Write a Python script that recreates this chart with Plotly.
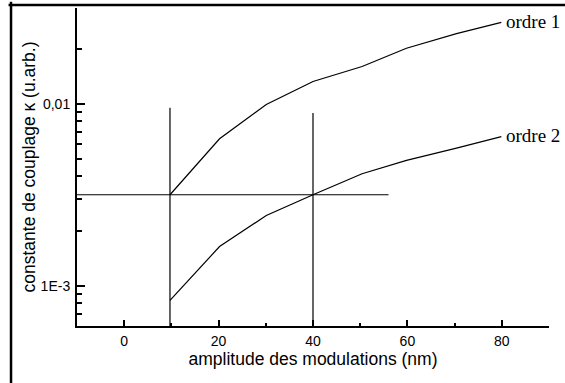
import numpy as np
import plotly.graph_objects as go

# Modulation amplitude (nm) and coupling constants for the two diffraction orders
amplitude = [9.7, 20.2, 30.1, 40.0, 50.4, 59.8, 70.4, 79.9]
ordre1 = [0.00316, 0.00642, 0.0099, 0.01326, 0.01603, 0.0202, 0.0243, 0.0280]
ordre2 = [0.00083, 0.00164, 0.00243, 0.00316, 0.00412, 0.00488, 0.0057, 0.0066]
series_names = ["ordre 1", "ordre 2"]

# Construction lines marking the working points
kappa_ref = 0.00316
ref_x_start, ref_x_end = -10, 56
vert1_x, vert1_top = 9.7, 0.0095
vert2_x, vert2_top = 40.0, 0.0089

x_range = [-10, 90]
y_range = [0.0006, 0.0336]

x_major = [0, 20, 40, 60, 80]
x_minor = [10, 30, 50, 70, 90]
y_major = [0.001, 0.01]
y_major_text = ["1E-3", "0,01"]
y_minor = [0.0007, 0.0008, 0.0009, 0.002, 0.003, 0.004, 0.005, 0.006,
           0.007, 0.008, 0.009, 0.02, 0.0336]

line_style = dict(color="black", width=1.2)

fig = go.Figure()
fig.add_trace(go.Scatter(x=amplitude, y=ordre1, mode="lines", line=line_style,
                         name=series_names[0]))
fig.add_trace(go.Scatter(x=amplitude, y=ordre2, mode="lines", line=line_style,
                         name=series_names[1]))
fig.add_trace(go.Scatter(x=[ref_x_start, ref_x_end], y=[kappa_ref, kappa_ref],
                         mode="lines", line=line_style))
fig.add_trace(go.Scatter(x=[vert1_x, vert1_x], y=[y_range[0], vert1_top],
                         mode="lines", line=line_style))
fig.add_trace(go.Scatter(x=[vert2_x, vert2_x], y=[y_range[0], vert2_top],
                         mode="lines", line=line_style))

# Curve labels at the end of each series
for name, ys in zip(series_names, [ordre1, ordre2]):
    fig.add_annotation(x=amplitude[-1], y=np.log10(ys[-1]), text=name,
                       showarrow=False, xanchor="left", yanchor="middle",
                       xshift=3, yshift=1,
                       font=dict(family="Liberation Serif", size=19, color="black"))

# Frame along the top and left edges of the page
fig.add_shape(type="line", xref="paper", yref="paper",
              x0=-0.145, x1=1.2, y0=1.0094, y1=1.0094,
              line=dict(color="black", width=2.5))
fig.add_shape(type="line", xref="paper", yref="paper",
              x0=-0.1398, x1=-0.1398, y0=1.02, y1=-0.3,
              line=dict(color="black", width=2.5))

tick_font = dict(family="Liberation Sans", size=14, color="black")
title_font = dict(family="Liberation Sans", size=17.5, color="black")
fig.update_layout(
    width=565, height=383,
    margin=dict(l=77, r=16, t=8, b=57),
    paper_bgcolor="white", plot_bgcolor="white",
    showlegend=False,
    xaxis=dict(
        range=x_range, showgrid=False, zeroline=False,
        showline=True, linecolor="black", linewidth=2,
        tickmode="array", tickvals=x_major,
        ticks="inside", ticklen=6, tickwidth=2, tickcolor="black",
        tickfont=tick_font, ticklabelstandoff=1,
        minor=dict(tickmode="array", tickvals=x_minor, ticks="inside",
                   ticklen=3, tickwidth=2, tickcolor="black"),
        title=dict(text="amplitude des modulations (nm)", font=title_font,
                   standoff=2),
    ),
    yaxis=dict(
        type="log", range=[np.log10(y_range[0]), np.log10(y_range[1])],
        showgrid=False, zeroline=False,
        showline=True, linecolor="black", linewidth=2,
        tickmode="array", tickvals=y_major, ticktext=y_major_text,
        ticks="inside", ticklen=8, tickwidth=2, tickcolor="black",
        tickfont=tick_font, ticklabelstandoff=2,
        minor=dict(tickmode="array", tickvals=y_minor, ticks="inside",
                   ticklen=5, tickwidth=2, tickcolor="black"),
        title=dict(text="constante de couplage \u03ba (u.arb.)", font=title_font,
                   standoff=0),
    ),
)

fig.write_html("out.html")
